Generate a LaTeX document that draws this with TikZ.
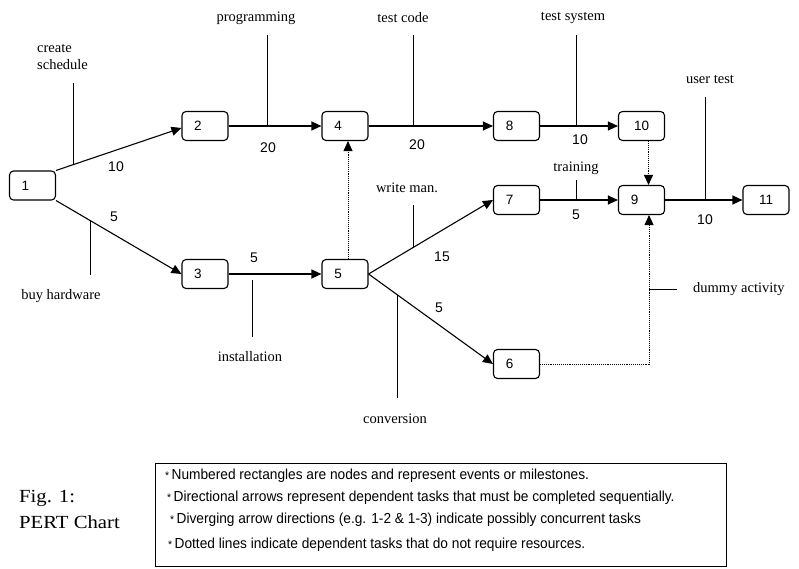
\documentclass[tikz,border=0pt]{standalone}
\usepackage{fontspec}
\setmainfont{Liberation Serif}
\newfontfamily\numfont{Liberation Sans}
\newfontfamily\narrowfont[FakeStretch=0.945]{Liberation Sans}
\newfontfamily\capfont[FakeStretch=1.12]{Liberation Serif}
\usetikzlibrary{arrows.meta}
\newcommand{\evt}[1]{#1\kern14pt}
\newcommand{\notestar}{{\fontsize{11}{11}\selectfont *}}
\begin{document}
\begin{tikzpicture}[x=1pt,y=-1pt,
 ev/.style={draw, line width=1.1pt, rounded corners=4pt, minimum width=46pt, minimum height=29pt, inner sep=0pt, font=\numfont\fontsize{13.5}{15}\selectfont},
 num/.style={font=\numfont\fontsize{14}{16}\selectfont, inner sep=0pt},
 lbl/.style={font=\fontsize{14.5}{17}\selectfont, inner sep=0pt},
 task/.style={line width=1.1pt, -{Triangle[length=10pt,width=9pt]}},
 dummy/.style={line width=0.9pt, densely dotted, -{Triangle[length=10pt,width=9pt]}},
 tick/.style={line width=0.9pt},
 note/.style={font=\narrowfont\fontsize{14.5}{16}\selectfont, anchor=west, inner sep=0pt}
]
\useasboundingbox (0,0) rectangle (799,569);

% events
\node[ev] (n1) at (32.5,185.5) {\evt{1}};
\node[ev] (n2) at (205,126) {\evt{2}};
\node[ev] (n4) at (345,126) {\evt{4}};
\node[ev] (n8) at (516.5,126) {\evt{8}};
\node[ev] (n10) at (641.5,126) {10};
\node[ev] (n7) at (516.5,200) {\evt{7}};
\node[ev] (n9) at (641.5,200) {\evt{9}};
\node[ev] (n11) at (766,200) {11};
\node[ev] (n3) at (205,274) {\evt{3}};
\node[ev] (n5) at (345,274) {\evt{5}};
\node[ev] (n6) at (516.5,364) {\evt{6}};

% tasks
\draw[task] (n1.north east) -- ([yshift=-2pt]n2.west);
\draw[task] (n1.south east) -- (n3.west);
\draw[task] (n2.east) -- (n4.west);
\draw[task] (n4.east) -- (n8.west);
\draw[task] (n8.east) -- (n10.west);
\draw[task] (n3.east) -- (n5.west);
\draw[task] (n5.east) -- (n7.west);
\draw[task] (n5.east) -- (n6.west);
\draw[task] (n7.east) -- (n9.west);
\draw[task] (n9.east) -- (n11.west);

% dummy activities
\draw[dummy] ([xshift=3pt]n5.north) -- ([xshift=3pt]n4.south);
\draw[dummy] ([xshift=7pt]n10.south) -- ([xshift=7pt]n9.north);
\draw[dummy] (n6.east) -| ([xshift=7.5pt]n9.south);

% leader lines
\draw[tick] (73,83) -- (73,165);
\draw[tick] (90,275) -- (90,220);
\draw[tick] (267,35) -- (267,126);
\draw[tick] (413,35) -- (413,126);
\draw[tick] (576,35) -- (576,126);
\draw[tick] (705,97) -- (705,200);
\draw[tick] (576,180) -- (576,200);
\draw[tick] (413,205) -- (413,247);
\draw[tick] (252,280) -- (252,337);
\draw[tick] (397,295) -- (397,398);
\draw[tick] (649,289) -- (677,289);

% task labels
\node[lbl, align=left, anchor=west] (lcs) at (37,56.5) {create\\schedule};
\node[lbl] (lpr) at (256,18) {programming};
\node[lbl] (ltc) at (403,18) {test code};
\node[lbl] (lts) at (573,18) {test system};
\node[lbl] (lut) at (710,79) {user test};
\node[lbl] (ltr) at (576,168) {training};
\node[lbl] (lwm) at (407,188) {write man.};
\node[lbl] (lin) at (250,357) {installation};
\node[lbl] (lco) at (395,419) {conversion};
\node[lbl] (lbh) at (61,296) {buy hardware};
\node[lbl, anchor=west] (lda) at (693,289) {dummy activity};

% durations
\node[num] at (116,167) {10};
\node[num] at (114,217) {5};
\node[num] at (268,148) {20};
\node[num] at (417,145) {20};
\node[num] at (580,140) {10};
\node[num] at (254,258) {5};
\node[num] at (442,257) {15};
\node[num] at (576,215) {5};
\node[num] at (705,220) {10};
\node[num] at (439,308) {5};

% caption
\node[font=\capfont\fontsize{18.5}{22}\selectfont, anchor=west, inner sep=0pt] (fig) at (19,498) {Fig. 1:};
\node[font=\capfont\fontsize{18.5}{22}\selectfont, anchor=west, inner sep=0pt] (pert) at (19,522) {PERT Chart};

% legend
\node[draw, line width=0.8pt, minimum width=571pt, minimum height=103pt, anchor=north west, inner sep=0pt] (legend) at (155,463) {};
\node[note] at (165,476) {\notestar\,Numbered rectangles are nodes and represent events or milestones.};
\node[note] at (167,498) {\notestar\,Directional arrows represent dependent tasks that must be completed sequentially.};
\node[note] at (170,520) {\notestar\,Diverging arrow directions (e.g. 1-2 \& 1-3) indicate possibly concurrent tasks};
\node[note] at (168,545) {\notestar\,Dotted lines indicate dependent tasks that do not require resources.};
\end{tikzpicture}
\end{document}
